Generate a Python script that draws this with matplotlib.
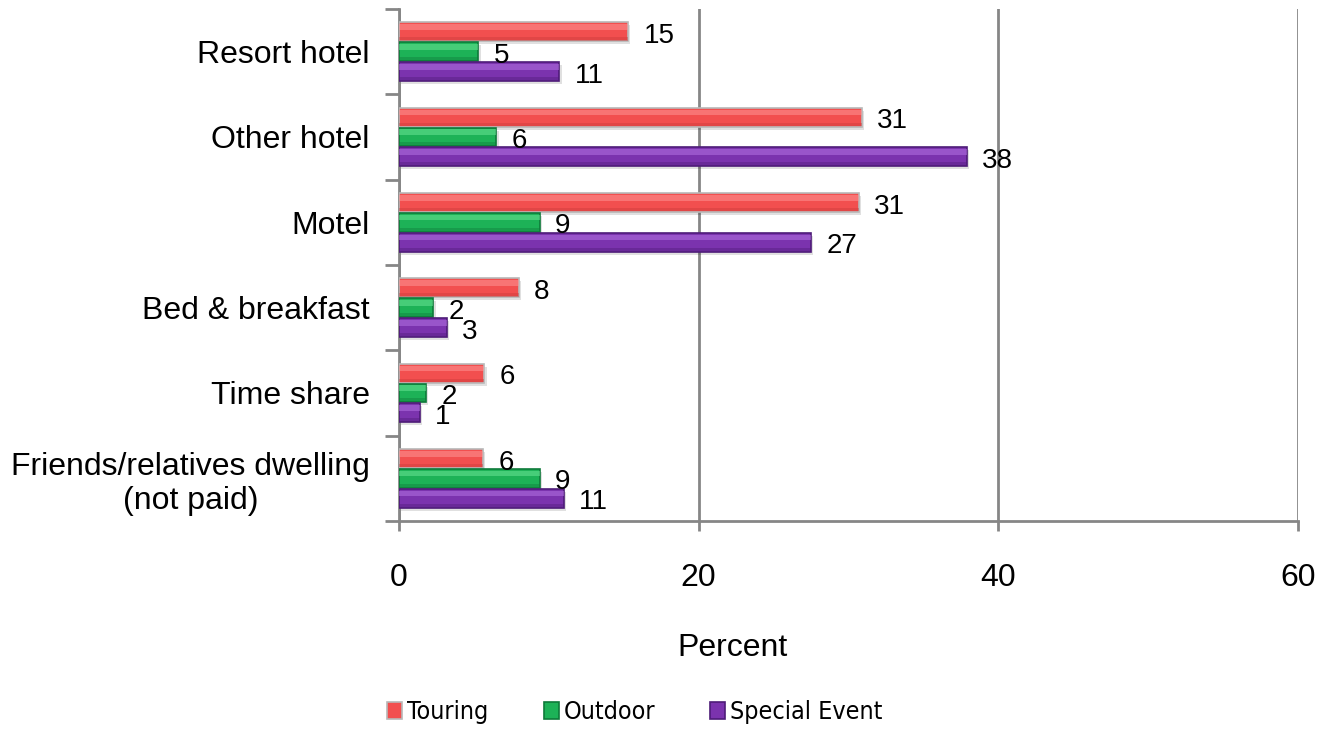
import matplotlib
matplotlib.use("Agg")
import matplotlib.pyplot as plt
import numpy as np
from matplotlib.patches import Rectangle
from matplotlib import font_manager
from matplotlib.font_manager import FontProperties

plt.rcParams['font.family'] = ['Liberation Sans', 'DejaVu Sans']

categories = ["Resort hotel", "Other hotel", "Motel", "Bed & breakfast",
              "Time share", "Friends/relatives dwelling\n(not paid)"]
series_names = ["Touring", "Outdoor", "Special Event"]
touring = [15.3, 30.9, 30.7, 8.0, 5.7, 5.6]
outdoor = [5.3, 6.5, 9.4, 2.3, 1.8, 9.4]
special = [10.7, 37.9, 27.5, 3.2, 1.4, 11.0]
touring_lbl = [15, 31, 31, 8, 6, 6]
outdoor_lbl = [5, 6, 9, 2, 2, 9]
special_lbl = [11, 38, 27, 3, 1, 11]
xticks = [0, 20, 40, 60]

colors = ["#F24F4F", "#1DB257", "#7B33AE"]
light = ["#FF9A9A", "#6FE89A", "#B878E6"]
dark = ["#B8B8B8", "#0E7A3A", "#4E1C78"]
bottom_dark = ["#C83A3A", "#0E7A3A", "#4E1C78"]

FS = 23
LFS = 20

# legend font: condensed if available
try:
    cpath = font_manager.findfont(FontProperties(family='DejaVu Sans', stretch='condensed'),
                                  fallback_to_default=False)
except Exception:
    cpath = ""
if "Condensed" in cpath:
    legend_prop = FontProperties(fname=cpath, size=18)
else:
    legend_prop = FontProperties(family=['Liberation Sans', 'DejaVu Sans'], size=17)

fig = plt.figure(figsize=(13.2, 7.32), dpi=100)
ax = fig.add_axes([399/1320, 1-521/732, (1298-399)/1320, (521-9)/732])

n = len(categories)
ypos = np.arange(n)
bh = 0.222
offs = [-0.232, 0.0, 0.232]
data = [touring, outdoor, special]
labels = [touring_lbl, outdoor_lbl, special_lbl]

for si in range(3):
    ys = ypos + offs[si]
    vals = data[si]
    # shadow
    ax.barh(ys + 0.035, vals, height=bh, left=0.15, color="#000000", alpha=0.12,
            zorder=2, linewidth=0)
    ax.barh(ys, vals, height=bh, color=colors[si], edgecolor=dark[si],
            linewidth=1.2, zorder=3)
    # highlight on top part
    ax.barh(ys - bh*0.25, vals, height=bh*0.3, color=light[si], alpha=0.5,
            linewidth=0, zorder=4)
    # darker lower edge
    ax.barh(ys + bh*0.38, vals, height=bh*0.18, color=bottom_dark[si],
            alpha=0.4, linewidth=0, zorder=4)
    for y, v, l in zip(ys, vals, labels[si]):
        ax.annotate(str(l), xy=(v, y), xytext=(11, -3), textcoords="offset points",
                    ha="left", va="center", fontsize=LFS, color="black", zorder=6)

ax.set_xlim(0, 60)
ax.set_ylim(n - 0.5, -0.5)
ax.set_xticks(xticks)
ax.set_xticklabels([str(t) for t in xticks], fontsize=FS)
ax.tick_params(axis='x', length=7, width=2, color="#868686", pad=23)
ax.set_yticks(ypos)
ax.set_yticklabels(categories, fontsize=FS, multialignment="center")
ax.tick_params(axis='y', length=0, pad=21)
ax.set_yticks(np.arange(n + 1) - 0.5, minor=True)
ax.tick_params(axis='y', which='minor', length=10, width=2, color="#868686")
ax.grid(axis='x', color="#868686", linewidth=2, zorder=1)
ax.set_axisbelow(True)
for s in ["top", "right"]:
    ax.spines[s].set_visible(False)
for s in ["left", "bottom"]:
    ax.spines[s].set_color("#868686")
    ax.spines[s].set_linewidth(2)

ax.set_xlabel("Percent", fontsize=FS)
ax.xaxis.set_label_coords((732-399)/899, -(648-521)/512, transform=ax.transAxes)
ax.xaxis.label.set_va("center")

handles = [Rectangle((0, 0), 1, 1, facecolor=colors[i], edgecolor=dark[i], linewidth=1.2)
           for i in range(3)]
fig.legend(handles, series_names, loc="center", bbox_to_anchor=(635/1320, 1-712/732),
           ncol=3, frameon=False, prop=legend_prop,
           handlelength=0.6, handleheight=0.65, handletextpad=0.2, columnspacing=2.2)

fig.savefig("out.png", dpi=100)
